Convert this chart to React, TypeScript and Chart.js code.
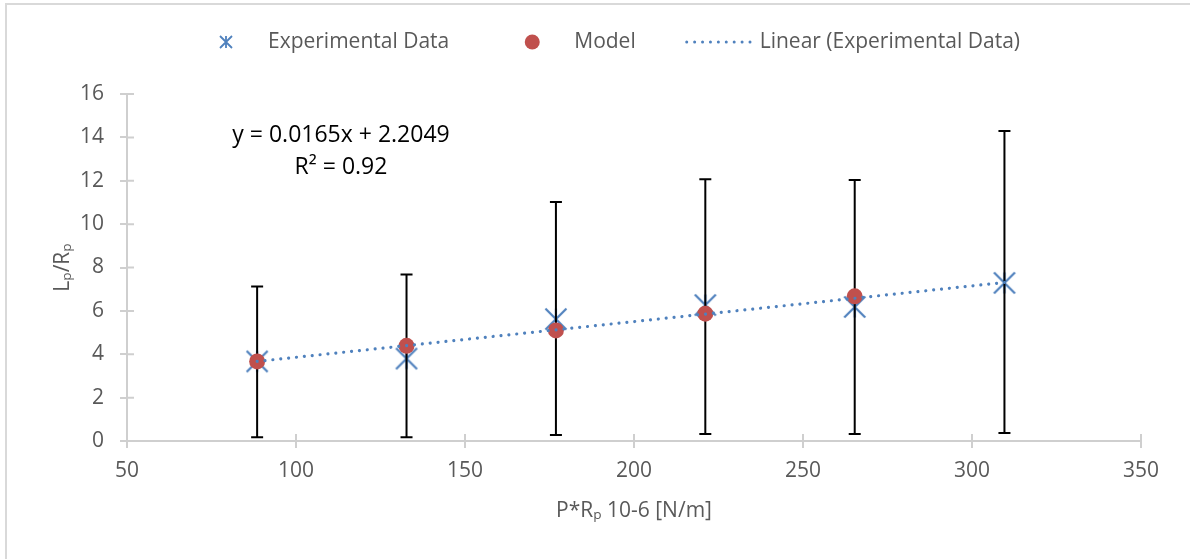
import React, { useEffect, useRef } from 'react';
import { Chart, registerables } from 'chart.js';

Chart.register(...registerables);

// ---- data ----
const xValues = [88.5, 132.7, 176.9, 221.1, 265.3, 309.6];
const experimentalY = [3.67, 3.8, 5.62, 6.27, 6.18, 7.29];
const errorHigh = [7.12, 7.68, 11.02, 12.07, 12.04, 14.29];
const errorLow = [0.17, 0.17, 0.28, 0.32, 0.32, 0.37];
const modelX = [88.5, 132.7, 176.9, 221.1, 265.3];
const modelY = [3.67, 4.39, 5.1, 5.87, 6.67];
const trendX = [88.5, 309.6];
const trendY = [3.67, 7.31];
const xTicks = [50, 100, 150, 200, 250, 300, 350];
const yTicks = [0, 2, 4, 6, 8, 10, 12, 14, 16];
const legendLabels = ['Experimental Data', 'Model', 'Linear (Experimental Data)'];
const equationLines = ['y = 0.0165x + 2.2049', 'R² = 0.92'];
const xTitle = 'P*Rₚ 10-6 [N/m]';
const yTitle = 'Lₚ/Rₚ';

const FONT = "'Open Sans', 'DejaVu Sans', sans-serif";
const BLUE = '#4F81BD';
const RED = '#C0504D';
const GREY_TEXT = '#595959';
const AXIS = '#CFCFCF';

function makeStar(size: number, half: number, lw: number): HTMLCanvasElement {
  const c = document.createElement('canvas');
  c.width = size;
  c.height = size;
  const g = c.getContext('2d')!;
  const m = size / 2;
  g.strokeStyle = BLUE;
  g.lineWidth = lw;
  g.lineCap = 'butt';
  g.beginPath();
  g.moveTo(m - half, m - half);
  g.lineTo(m + half, m + half);
  g.moveTo(m + half, m - half);
  g.lineTo(m - half, m + half);
  g.moveTo(m, m - half);
  g.lineTo(m, m + half);
  g.stroke();
  return c;
}

export default function App() {
  const ref = useRef<HTMLCanvasElement>(null);

  useEffect(() => {
    const canvas = ref.current!;
    const star = makeStar(26, 10.5, 2.2);
    const legendStar = makeStar(16, 6, 1.8);

    const errorBars = {
      id: 'errorBars',
      afterDatasetDraw(chart: any, args: any) {
        if (args.index !== 0) return;
        const ctx = chart.ctx;
        const xs = chart.scales.x;
        const ys = chart.scales.y;
        ctx.save();
        ctx.strokeStyle = '#000';
        ctx.lineWidth = 2;
        xValues.forEach((xv, i) => {
          const px = xs.getPixelForValue(xv);
          const top = ys.getPixelForValue(errorHigh[i]);
          const bot = ys.getPixelForValue(errorLow[i]);
          ctx.beginPath();
          ctx.moveTo(px, top);
          ctx.lineTo(px, bot);
          ctx.moveTo(px - 6, top);
          ctx.lineTo(px + 6, top);
          ctx.moveTo(px - 6, bot);
          ctx.lineTo(px + 6, bot);
          ctx.stroke();
        });
        ctx.restore();
      },
    };

    const decorations = {
      id: 'decorations',
      beforeDatasetsDraw(chart: any) {
        // inner half of the crossing tick marks
        const ctx = chart.ctx;
        const xs = chart.scales.x;
        const ys = chart.scales.y;
        const ca = chart.chartArea;
        ctx.save();
        ctx.strokeStyle = AXIS;
        ctx.lineWidth = 2;
        ctx.beginPath();
        yTicks.forEach((v) => {
          const py = ys.getPixelForValue(v);
          ctx.moveTo(ca.left, py);
          ctx.lineTo(ca.left + 7, py);
        });
        xTicks.forEach((v) => {
          const px = xs.getPixelForValue(v);
          ctx.moveTo(px, ca.bottom);
          ctx.lineTo(px, ca.bottom - 7);
        });
        ctx.stroke();
        ctx.restore();
      },
      afterDraw(chart: any) {
        const ctx = chart.ctx;
        const ca = chart.chartArea;
        ctx.save();
        // chart border (top & left edges visible)
        ctx.strokeStyle = '#D9D9D9';
        ctx.lineWidth = 2;
        ctx.beginPath();
        ctx.moveTo(6, chart.height);
        ctx.lineTo(6, 4);
        ctx.lineTo(chart.width, 4);
        ctx.stroke();

        // legend
        ctx.font = `21px ${FONT}`;
        ctx.textBaseline = 'middle';
        ctx.textAlign = 'left';
        ctx.fillStyle = GREY_TEXT;
        const w = legendLabels.map((t) => ctx.measureText(t).width);
        const total = 6 + 42 + w[0] + 83 + 42 + w[1] + 49 + 66 + 9 + w[2];
        const ly = 42;
        const starC = chart.width / 2 + 25 - total / 2 + 6;
        const t1 = starC + 42;
        const circC = t1 + w[0] + 83;
        const t2 = circC + 42;
        const lineS = t2 + w[1] + 49;
        const lineE = lineS + 66;
        const t3 = lineE + 9;
        ctx.drawImage(legendStar, starC - legendStar.width / 2, ly - legendStar.height / 2);
        ctx.fillText(legendLabels[0], t1, ly);
        ctx.beginPath();
        ctx.fillStyle = RED;
        ctx.arc(circC, ly, 7.5, 0, Math.PI * 2);
        ctx.fill();
        ctx.fillStyle = GREY_TEXT;
        ctx.fillText(legendLabels[1], t2, ly);
        ctx.save();
        ctx.strokeStyle = BLUE;
        ctx.lineWidth = 3;
        ctx.lineCap = 'round';
        ctx.setLineDash([0.01, 7.9]);
        ctx.beginPath();
        ctx.moveTo(lineS + 2, ly);
        ctx.lineTo(lineE, ly);
        ctx.stroke();
        ctx.restore();
        ctx.fillStyle = GREY_TEXT;
        ctx.fillText(legendLabels[2], t3, ly);

        // trendline equation
        ctx.font = `23px ${FONT}`;
        ctx.fillStyle = '#000';
        ctx.textAlign = 'center';
        ctx.fillText(equationLines[0], ca.left + 214, ca.top + 41);
        ctx.fillText(equationLines[1], ca.left + 214, ca.top + 73);
        ctx.restore();
      },
    };

    const chart = new Chart(canvas, {
      type: 'scatter',
      data: {
        datasets: [
          {
            label: legendLabels[0],
            data: xValues.map((x, i) => ({ x, y: experimentalY[i] })),
            pointStyle: star as any,
            pointRadius: 10,
            backgroundColor: BLUE,
            borderColor: BLUE,
            order: 3,
          },
          {
            label: legendLabels[1],
            data: modelX.map((x, i) => ({ x, y: modelY[i] })),
            pointStyle: 'circle',
            pointRadius: 8,
            borderWidth: 0,
            backgroundColor: RED,
            borderColor: RED,
            order: 2,
          },
          {
            type: 'line' as any,
            label: legendLabels[2],
            data: trendX.map((x, i) => ({ x, y: trendY[i] })),
            borderColor: BLUE,
            borderWidth: 3.2,
            borderCapStyle: 'round',
            borderDash: [0.01, 7.9],
            pointRadius: 0,
            showLine: true,
            fill: false,
            order: 1,
          } as any,
        ],
      },
      options: {
        animation: false,
        responsive: true,
        maintainAspectRatio: false,
        layout: { padding: { top: 94, right: 49, bottom: 0, left: 0 } },
        plugins: {
          legend: { display: false },
          tooltip: { enabled: false },
        },
        scales: {
          x: {
            type: 'linear',
            min: xTicks[0],
            max: xTicks[xTicks.length - 1],
            afterFit(scale: any) {
              scale.height = 118;
            },
            afterBuildTicks(scale: any) {
              scale.ticks = xTicks.map((v) => ({ value: v }));
            },
            ticks: {
              color: GREY_TEXT,
              font: { family: FONT, size: 21 },
              padding: 10,
              maxRotation: 0,
            },
            grid: {
              drawOnChartArea: false,
              drawTicks: true,
              tickLength: 7,
              color: AXIS,
              lineWidth: 2,
            },
            border: { display: true, color: AXIS, width: 2 },
            title: {
              display: true,
              text: xTitle,
              color: GREY_TEXT,
              font: { family: FONT, size: 21 },
              padding: { top: 0, bottom: 35 },
            },
          },
          y: {
            type: 'linear',
            min: yTicks[0],
            max: yTicks[yTicks.length - 1],
            afterFit(scale: any) {
              scale.width = 127;
            },
            afterBuildTicks(scale: any) {
              scale.ticks = yTicks.map((v) => ({ value: v }));
            },
            ticks: {
              color: GREY_TEXT,
              font: { family: FONT, size: 21 },
              padding: 16,
            },
            grid: {
              drawOnChartArea: false,
              drawTicks: true,
              tickLength: 7,
              color: AXIS,
              lineWidth: 2,
            },
            border: { display: true, color: AXIS, width: 2 },
            title: {
              display: true,
              text: yTitle,
              color: GREY_TEXT,
              font: { family: FONT, size: 21 },
              padding: { top: 50, bottom: 0 },
            },
          },
        },
      },
      plugins: [errorBars, decorations],
    } as any);

    return () => chart.destroy();
  }, []);

  return (
    <div
      style={{
        position: 'fixed',
        left: 0,
        top: 0,
        width: 1190,
        height: 559,
        background: '#fff',
      }}
    >
      <canvas ref={ref} />
    </div>
  );
}
